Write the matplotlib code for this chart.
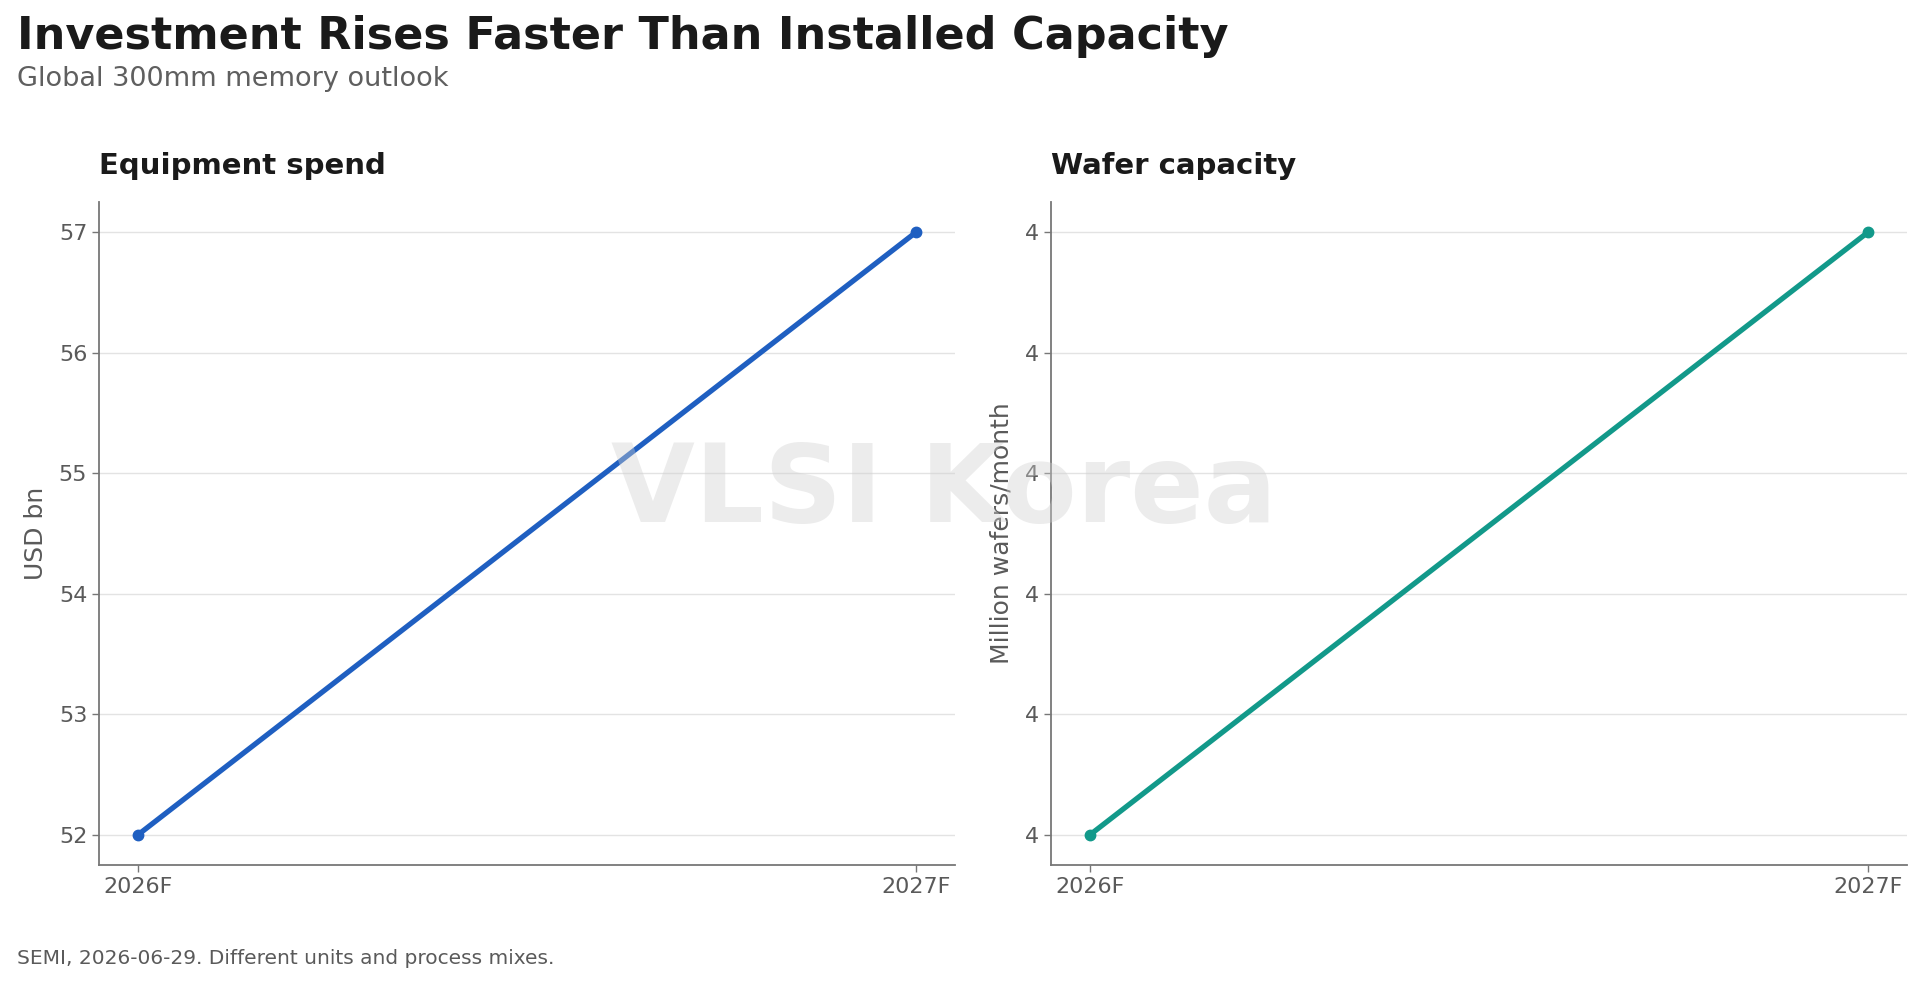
import matplotlib
matplotlib.use("Agg")
import matplotlib.pyplot as plt
from matplotlib.ticker import StrMethodFormatter

years = ["2026F", "2027F"]
equipment_spend = [52, 57]
wafer_capacity = [4.0, 4.5]

title = "Investment Rises Faster Than Installed Capacity"
subtitle = "Global 300mm memory outlook"
footer = "SEMI, 2026-06-29. Different units and process mixes."
panel_titles = ["Equipment spend", "Wafer capacity"]
y_labels = ["USD bn", "Million wafers/month"]
colors = ["#1f5fc1", "#12998a"]

plt.rcParams['font.family'] = ['DejaVu Sans']
fig = plt.figure(figsize=(19.23, 9.85), dpi=100)

W, H = 1923, 985
axes_px = [(99, 202, 955, 865), (1051, 202, 1907, 865)]
series = [equipment_spend, wafer_capacity]
formats = ["{x:.0f}", "{x:.0f}"]

for i, (l, t, r, b) in enumerate(axes_px):
    ax = fig.add_axes([l / W, 1 - b / H, (r - l) / W, (b - t) / H])
    x = list(range(len(years)))
    ax.plot(x, series[i], color=colors[i], lw=3.8, marker='o', ms=7.5, zorder=3)
    ax.set_xticks(x)
    ax.set_xticklabels(years)
    ax.yaxis.set_major_formatter(StrMethodFormatter(formats[i]))
    ax.margins(x=0.05, y=0.05)
    for s in ["top", "right"]:
        ax.spines[s].set_visible(False)
    for s in ["left", "bottom"]:
        ax.spines[s].set_color("#777777")
        ax.spines[s].set_linewidth(1.3)
    ax.tick_params(colors="#777777", labelcolor="#5a5a5a", labelsize=16, length=5, width=1)
    ax.grid(axis='y', color="#e3e3e3", lw=1)
    ax.set_axisbelow(True)
    ax.set_title(panel_titles[i], loc='left', fontsize=21, fontweight='bold', color="#1a1a1a", pad=20)
    ax.set_ylabel(y_labels[i], fontsize=18, color="#5a5a5a", labelpad=8)

fig.text(0.491, 0.50, "VLSI Korea", fontsize=78, fontweight='bold', color="#d0d0d0", alpha=0.4,
         ha='center', va='center', zorder=10)
fig.text(0.009, 0.985, title, fontsize=32, fontweight='bold', color="#1a1a1a", ha='left', va='top')
fig.text(0.009, 0.920, subtitle, fontsize=19.5, color="#5f5f5f", ha='left', va='center')
fig.text(0.009, 0.027, footer, fontsize=14.5, color="#5a5a5a", ha='left', va='center')

fig.savefig("out.png", dpi=100)
